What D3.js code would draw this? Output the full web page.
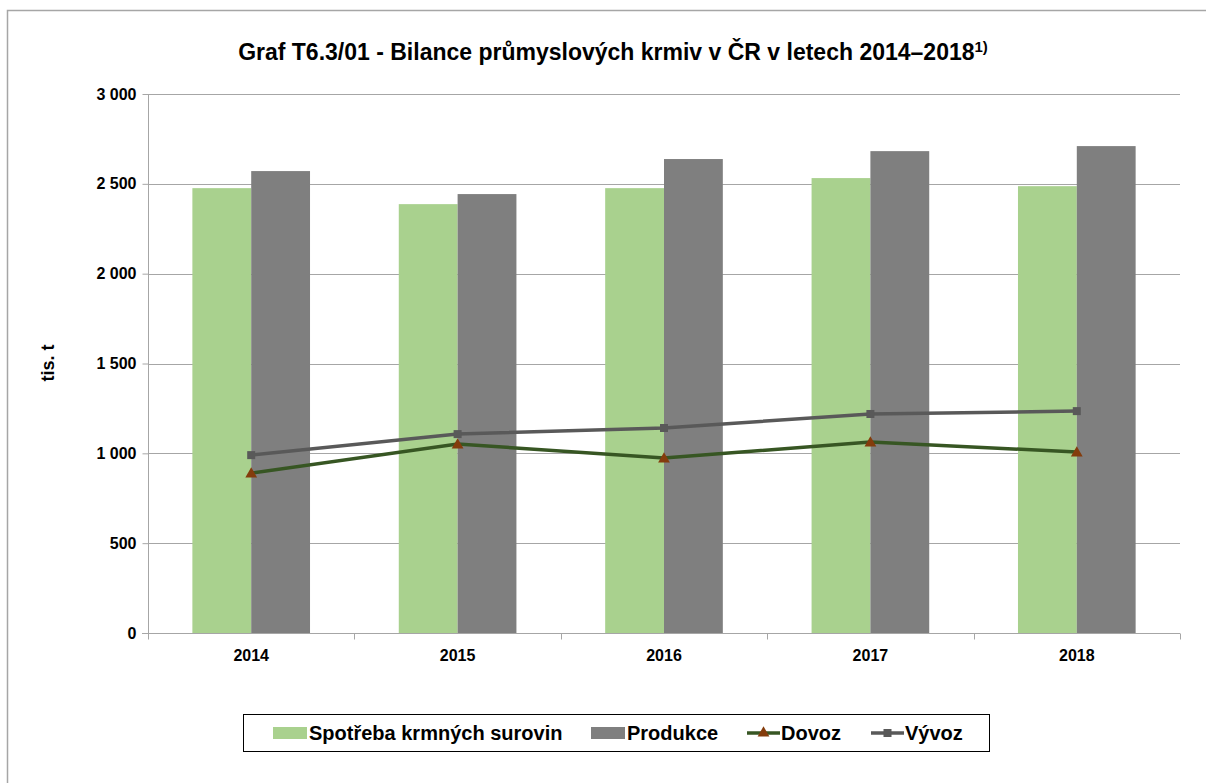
<!DOCTYPE html>
<html>
<head>
<meta charset="utf-8">
<script src="https://cdn.jsdelivr.net/npm/d3@7"></script>
<style>
    body { margin: 0; background: #fff; }
    svg { font-family: "Liberation Sans", Arial, sans-serif; }
</style>
</head>
<body>
<div id="chart"></div>
<script>
const years = ["2014", "2015", "2016", "2017", "2018"];
const spotreba = [2476, 2387, 2476, 2532, 2487];
const produkce = [2571, 2443, 2638, 2682, 2710];
const dovoz = [890, 1052, 974, 1063, 1007];
const vyvoz = [990, 1107, 1141, 1219, 1235];
const yTicks = [0, 500, 1000, 1500, 2000, 2500, 3000];

const width = 1206, height = 783;
const margin = { left: 148, right: 26, top: 94, bottom: 150 };

const svg = d3.select("#chart").append("svg")
    .attr("width", width)
    .attr("height", height);

// outer frame
svg.append("path")
    .attr("d", `M7.5,${height} V10.5 H${width}`)
    .attr("fill", "none")
    .attr("stroke", "#a6a6a6")
    .attr("stroke-width", 1.5);

const x = d3.scaleBand()
    .domain(years)
    .range([margin.left, width - margin.right])
    .paddingInner(0.43)
    .paddingOuter(0.215);

const xInner = d3.scaleBand()
    .domain(["spotreba", "produkce"])
    .range([0, x.bandwidth()]);

const y = d3.scaleLinear()
    .domain([0, 3000])
    .range([height - margin.bottom, margin.top]);

const fmt = v => d3.format(",")(v).replace(",", " ");

// gridlines
svg.append("g")
    .selectAll("line")
    .data(yTicks.filter(t => t > 0))
    .enter()
    .append("line")
    .attr("x1", margin.left)
    .attr("x2", width - margin.right)
    .attr("y1", d => Math.round(y(d)) + 0.5)
    .attr("y2", d => Math.round(y(d)) + 0.5)
    .attr("stroke", "#a6a6a6")
    .attr("stroke-width", 1);

// bars
const groups = svg.append("g")
    .selectAll("g")
    .data(years.map((yr, i) => ({ yr, spotreba: spotreba[i], produkce: produkce[i] })))
    .enter()
    .append("g")
    .attr("transform", d => `translate(${x(d.yr)},0)`);

groups.append("rect")
    .attr("x", xInner("spotreba"))
    .attr("width", xInner.bandwidth())
    .attr("y", d => y(d.spotreba))
    .attr("height", d => y(0) - y(d.spotreba))
    .attr("fill", "#a9d18e");

groups.append("rect")
    .attr("x", xInner("produkce"))
    .attr("width", xInner.bandwidth())
    .attr("y", d => y(d.produkce))
    .attr("height", d => y(0) - y(d.produkce))
    .attr("fill", "#7f7f7f");

// y axis
const yAxis = svg.append("g")
    .attr("transform", `translate(${margin.left + 0.5},0)`)
    .call(d3.axisLeft(y).tickValues(yTicks).tickFormat(fmt).tickSize(6).tickPadding(6));
yAxis.selectAll("path, line").attr("stroke", "#a6a6a6");
yAxis.select(".domain").attr("d", `M0,${y(0)}V${y(3000)}`);
yAxis.selectAll("text")
    .attr("font-size", 16)
    .attr("font-weight", "bold")
    .attr("fill", "#000")
    .attr("font-family", "Liberation Sans, Arial, sans-serif");

// x axis
const xAxisG = svg.append("g")
    .attr("transform", `translate(0,${Math.round(y(0)) + 0.5})`);
xAxisG.append("line")
    .attr("x1", margin.left - 6)
    .attr("x2", width - margin.right)
    .attr("stroke", "#a6a6a6");
const bounds = d3.range(years.length + 1).map(i => x.range()[0] + i * x.step());
xAxisG.selectAll(".tk")
    .data(bounds)
    .enter()
    .append("line")
    .attr("class", "tk")
    .attr("x1", d => Math.round(d) + 0.5)
    .attr("x2", d => Math.round(d) + 0.5)
    .attr("y1", 0)
    .attr("y2", 6)
    .attr("stroke", "#a6a6a6");
xAxisG.selectAll("text")
    .data(years)
    .enter()
    .append("text")
    .attr("x", d => x(d) + x.bandwidth() / 2)
    .attr("y", 27)
    .attr("text-anchor", "middle")
    .attr("font-size", 16)
    .attr("font-weight", "bold")
    .text(d => d);

// lines
const cx = yr => x(yr) + x.bandwidth() / 2;
const lineGen = d3.line().x(d => cx(d[0])).y(d => y(d[1]));

const vyvozData = years.map((yr, i) => [yr, vyvoz[i]]);
const dovozData = years.map((yr, i) => [yr, dovoz[i]]);

svg.append("path")
    .datum(vyvozData)
    .attr("d", lineGen)
    .attr("fill", "none")
    .attr("stroke", "#595959")
    .attr("stroke-width", 3.5);

svg.append("g")
    .selectAll("rect")
    .data(vyvozData)
    .enter()
    .append("rect")
    .attr("x", d => cx(d[0]) - 4)
    .attr("y", d => y(d[1]) - 4)
    .attr("width", 8)
    .attr("height", 8)
    .attr("fill", "#595959");

svg.append("path")
    .datum(dovozData)
    .attr("d", lineGen)
    .attr("fill", "none")
    .attr("stroke", "#375623")
    .attr("stroke-width", 3.5);

const tri = d3.symbol().type(d3.symbolTriangle).size(60);
svg.append("g")
    .selectAll("path")
    .data(dovozData)
    .enter()
    .append("path")
    .attr("d", tri)
    .attr("transform", d => `translate(${cx(d[0])},${y(d[1]) + 1})`)
    .attr("fill", "#843c0c");

// y label
svg.append("text")
    .attr("transform", "translate(54,363) rotate(-90)")
    .attr("text-anchor", "middle")
    .attr("font-size", 18)
    .attr("font-weight", "bold")
    .text("tis. t");

// title
const title = svg.append("text")
    .attr("x", 613)
    .attr("y", 60)
    .attr("text-anchor", "middle")
    .attr("font-size", 23)
    .attr("font-weight", "bold");
title.append("tspan").text("Graf T6.3/01 - Bilance průmyslových krmiv v ČR v letech 2014–2018");
title.append("tspan").attr("font-size", 15).attr("dy", -8).text("1)");

// legend
const legend = svg.append("g");
legend.append("rect")
    .attr("x", 243.5)
    .attr("y", 714.5)
    .attr("width", 746)
    .attr("height", 37)
    .attr("fill", "#fff")
    .attr("stroke", "#000")
    .attr("stroke-width", 1);

const legY = 733;
const items = [
    { label: "Spotřeba krmných surovin", type: "bar", color: "#a9d18e", x: 273 },
    { label: "Produkce", type: "bar", color: "#7f7f7f", x: 591 },
    { label: "Dovoz", type: "line", color: "#375623", marker: "#843c0c", x: 747 },
    { label: "Vývoz", type: "line", color: "#595959", marker: "#595959", x: 871 }
];
items.forEach((it, i) => {
    const g = legend.append("g");
    if (it.type === "bar") {
        g.append("rect")
            .attr("x", it.x).attr("y", legY - 6)
            .attr("width", 34).attr("height", 12)
            .attr("fill", it.color);
    } else {
        g.append("line")
            .attr("x1", it.x).attr("x2", it.x + 33)
            .attr("y1", legY).attr("y2", legY)
            .attr("stroke", it.color).attr("stroke-width", 3.5);
        if (i === 2) {
            g.append("path").attr("d", tri)
                .attr("transform", `translate(${it.x + 16.5},${legY})`)
                .attr("fill", it.marker);
        } else {
            g.append("rect")
                .attr("x", it.x + 12.5).attr("y", legY - 4)
                .attr("width", 8).attr("height", 8)
                .attr("fill", it.marker);
        }
    }
    g.append("text")
        .attr("x", it.x + (it.type === "bar" ? 36 : 34))
        .attr("y", legY + 7)
        .attr("font-size", 20)
        .attr("font-weight", "bold")
        .text(it.label);
});
</script>
</body>
</html>
